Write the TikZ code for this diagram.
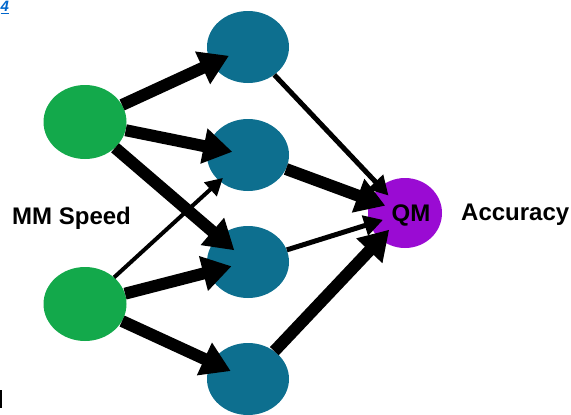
\documentclass[tikz,border=0pt]{standalone}
\usepackage{fontspec}
\setmainfont{Liberation Sans}
\usetikzlibrary{arrows.meta,shapes.geometric}
\definecolor{nodegreen}{RGB}{19,169,75}
\definecolor{nodeteal}{RGB}{13,111,143}
\definecolor{nodepurple}{RGB}{154,11,211}
\definecolor{linkblue}{RGB}{0,102,204}
\begin{document}
\begin{tikzpicture}[x=1pt,y=-1pt,
  blob/.style={ellipse,inner sep=0pt,draw=none},
  greenblob/.style={blob,fill=nodegreen,minimum width=83pt,minimum height=74pt},
  tealblob/.style={blob,fill=nodeteal,minimum width=82pt,minimum height=72pt},
  purpleblob/.style={blob,fill=nodepurple,minimum width=74pt,minimum height=70pt},
  lbl/.style={font=\bfseries\fontsize{24}{27}\selectfont,inner sep=0pt},
  thickarrow/.style={line width=12pt,-{Triangle[length=29pt,width=34pt]}},
  medarrow/.style={line width=5pt,-{Triangle[length=19pt,width=20pt]}},
  thinarrow/.style={line width=4pt,-{Triangle[length=17pt,width=18pt]}}]
\useasboundingbox (0,0) rectangle (571,415);
% nodes
\node[greenblob] (G1) at (85,122) {};
\node[greenblob] (G2) at (85,304) {};
\node[tealblob] (T1) at (248,47) {};
\node[tealblob] (T2) at (248,155) {};
\node[tealblob] (T3) at (248,262) {};
\node[tealblob] (T4) at (248,379) {};
\node[purpleblob] (QM) at (405,213) {};
% connectors
\draw[thickarrow,shorten >=21pt] (G1) -- (T1.center);
\draw[thickarrow,shorten >=16pt] (G1) -- (T2.center);
\draw[thickarrow,shorten >=18pt] (G1) -- (T3.center);
\draw[thinarrow,shorten >=34pt] (G2) -- (T2.center);
\draw[thickarrow,shorten >=17pt] (G2) -- (T3.center);
\draw[thickarrow,shorten >=19pt] (G2) -- (T4.center);
\draw[medarrow,shorten >=24pt] (T1) -- (QM.center);
\draw[thickarrow,shorten >=21pt] (T2) -- (QM.center);
\draw[medarrow,shorten >=23pt] (T3) -- (QM.center);
\draw[thickarrow,shorten >=23pt] (T4) -- (QM.center);
% labels
\node[lbl] (qmtext) at (411,215) {QM};
\node[lbl,anchor=west] (acc) at (461,215) {Accuracy};
\node[lbl,anchor=west] (mm) at (12,218) {MM Speed};
\node[anchor=west,inner sep=0pt,text=linkblue,font=\bfseries\itshape\fontsize{15}{16}\selectfont] (ref) at (0.5,7.5) {\underline{4}};
\draw[line width=1.5pt] (1,390) -- (1,408);
\end{tikzpicture}
\end{document}
